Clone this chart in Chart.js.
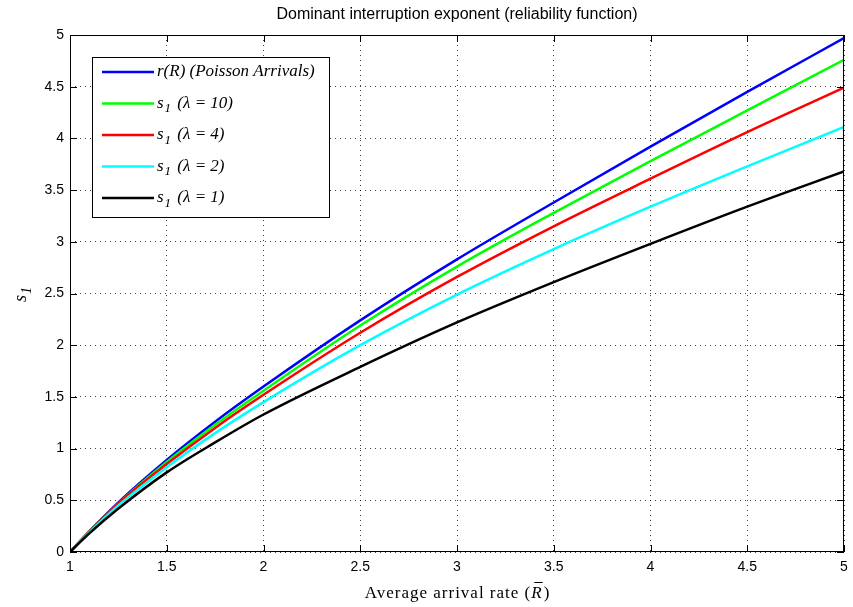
<!DOCTYPE html>
<html>
<head>
<meta charset="utf-8">
<title>Dominant interruption exponent</title>
<script src="https://cdn.jsdelivr.net/npm/chart.js@4.4.1/dist/chart.umd.min.js"></script>
<style>
  body { margin: 0; background: #fff; }
  #wrap { width: 853px; height: 607px; }
</style>
</head>
<body>
<div id="wrap"><canvas id="exponent-chart"></canvas></div>
<script>
// values
const rateValues = [1, 1.1, 1.25, 1.5, 1.75, 2, 2.5, 3, 3.5, 4, 4.5, 5];
const poissonValues = [0, 0.20, 0.48, 0.89, 1.26, 1.60, 2.24, 2.83, 3.38, 3.92, 4.45, 4.97];
const lambda10Values = [0, 0.20, 0.47, 0.87, 1.23, 1.56, 2.19, 2.76, 3.28, 3.78, 4.27, 4.76];
const lambda4Values = [0, 0.20, 0.47, 0.85, 1.20, 1.52, 2.12, 2.66, 3.15, 3.61, 4.06, 4.49];
const lambda2Values = [0, 0.19, 0.45, 0.82, 1.15, 1.45, 2.00, 2.49, 2.93, 3.34, 3.73, 4.11];
const lambda1Values = [0, 0.18, 0.42, 0.77, 1.06, 1.33, 1.79, 2.22, 2.61, 2.98, 3.34, 3.68];

const seriesLabels = ['r(R) (Poisson Arrivals)', 's_1 (λ = 10)', 's_1 (λ = 4)', 's_1 (λ = 2)', 's_1 (λ = 1)'];
const seriesColors = ['#0000ff', '#00ff00', '#ff0000', '#00ffff', '#000000'];
const seriesValues = [poissonValues, lambda10Values, lambda4Values, lambda2Values, lambda1Values];

const xTicks = [1, 1.5, 2, 2.5, 3, 3.5, 4, 4.5, 5];
const yTicks = [0, 0.5, 1, 1.5, 2, 2.5, 3, 3.5, 4, 4.5, 5];

const chartTitle = 'Dominant interruption exponent (reliability function)';

function toPoints(values) {
    return values.map(function(v, i) { return { x: rateValues[i], y: v }; });
}

// draws "s_1" style text with a lowered small subscript, returns end x
function drawSubText(ctx, text, x, y, size) {
    const m = text.match(/^(\w)_(\w)(.*)$/);
    ctx.font = 'italic ' + size + 'px "Liberation Serif", serif';
    if (!m) {
        ctx.fillText(text, x, y);
        return x + ctx.measureText(text).width;
    }
    ctx.fillText(m[1], x, y);
    x += ctx.measureText(m[1]).width + 1;
    ctx.font = 'italic ' + Math.round(size * 0.75) + 'px "Liberation Serif", serif';
    ctx.fillText(m[2], x, y + size * 0.3);
    x += ctx.measureText(m[2]).width + 2;
    ctx.font = 'italic ' + size + 'px "Liberation Serif", serif';
    ctx.fillText(m[3], x, y);
    return x + ctx.measureText(m[3]).width;
}

const decorPlugin = {
    id: 'decor',
    afterDraw: function(chart) {
        const ctx = chart.ctx;
        const area = chart.chartArea;
        const xs = chart.scales.x;
        const ys = chart.scales.y;

        ctx.save();
        // axes box
        ctx.strokeStyle = '#000';
        ctx.lineWidth = 1;
        ctx.strokeRect(area.left + 0.5, area.top + 0.5, area.right - area.left - 1, area.bottom - area.top - 1);

        // inward tick marks on all four sides
        const tl = 7;
        ctx.beginPath();
        xs.ticks.forEach(function(t) {
            const px = Math.round(xs.getPixelForValue(t.value)) + 0.5;
            ctx.moveTo(px, area.bottom); ctx.lineTo(px, area.bottom - tl);
            ctx.moveTo(px, area.top); ctx.lineTo(px, area.top + tl);
        });
        ys.ticks.forEach(function(t) {
            const py = Math.round(ys.getPixelForValue(t.value)) + 0.5;
            ctx.moveTo(area.left, py); ctx.lineTo(area.left + tl, py);
            ctx.moveTo(area.right, py); ctx.lineTo(area.right - tl, py);
        });
        ctx.stroke();

        // title
        ctx.fillStyle = '#000';
        ctx.textAlign = 'center';
        ctx.textBaseline = 'middle';
        ctx.font = '16px "Liberation Sans", Arial, sans-serif';
        ctx.fillText(chartTitle, (area.left + area.right) / 2, 15);

        // x axis label with barred R
        ctx.textAlign = 'left';
        ctx.textBaseline = 'alphabetic';
        ctx.letterSpacing = '1px';
        const part1 = 'Average arrival rate (';
        ctx.font = '17px "Liberation Serif", serif';
        const w1 = ctx.measureText(part1).width;
        ctx.font = 'italic 17px "Liberation Serif", serif';
        const wR = ctx.measureText('R').width;
        ctx.font = '17px "Liberation Serif", serif';
        const w2 = ctx.measureText(')').width;
        let lx = (area.left + area.right) / 2 - (w1 + wR + w2) / 2;
        const ly = 598;
        ctx.fillText(part1, lx, ly);
        lx += w1;
        ctx.font = 'italic 17px "Liberation Serif", serif';
        ctx.fillText('R', lx, ly);
        ctx.beginPath();
        ctx.moveTo(lx + 3, ly - 15.5); ctx.lineTo(lx + wR, ly - 15.5);
        ctx.stroke();
        lx += wR + 1;
        ctx.font = '17px "Liberation Serif", serif';
        ctx.fillText(')', lx, ly);
        ctx.letterSpacing = '0px';

        // y axis label
        ctx.save();
        ctx.translate(26, 302);
        ctx.rotate(-Math.PI / 2);
        drawSubText(ctx, 's_1', 0, 0, 18);
        ctx.restore();

        // legend box
        const bx = 92, by = 57, bw = 237, bh = 160;
        ctx.fillStyle = '#fff';
        ctx.fillRect(bx, by, bw, bh);
        ctx.strokeStyle = '#000';
        ctx.lineWidth = 1;
        ctx.strokeRect(bx + 0.5, by + 0.5, bw, bh);
        chart.data.datasets.forEach(function(ds, i) {
            const ry = by + 15 + i * 31.5;
            ctx.strokeStyle = ds.borderColor;
            ctx.lineWidth = 2.5;
            ctx.beginPath();
            ctx.moveTo(bx + 10, ry); ctx.lineTo(bx + 62, ry);
            ctx.stroke();
            ctx.fillStyle = '#000';
            ctx.textBaseline = 'middle';
            drawSubText(ctx, ds.label, bx + 65, ry, 17);
        });
        ctx.restore();
    }
};

document.addEventListener('DOMContentLoaded', function() {
    const el = document.getElementById('exponent-chart');
    const datasets = seriesValues.map(function(values, i) {
        return {
            label: seriesLabels[i],
            data: toPoints(values),
            borderColor: seriesColors[i],
            backgroundColor: seriesColors[i],
            borderWidth: 2.5,
            pointRadius: 0,
            cubicInterpolationMode: 'monotone',
            fill: false,
            order: seriesValues.length - i
        };
    });

    const tickFont = { family: '"Liberation Sans", Arial, sans-serif', size: 14 };

    new Chart(el.getContext('2d'), {
        type: 'line',
        data: { datasets: datasets },
        options: {
            responsive: true,
            maintainAspectRatio: false,
            animation: false,
            layout: { padding: { top: 35, right: 9, left: 0, bottom: 0 } },
            plugins: {
                legend: { display: false },
                title: { display: false },
                tooltip: { enabled: false }
            },
            scales: {
                x: {
                    type: 'linear',
                    min: 1,
                    max: 5,
                    afterBuildTicks: function(scale) {
                        scale.ticks = xTicks.map(function(v) { return { value: v }; });
                    },
                    afterFit: function(scale) {
                        scale.height = 55;
                        scale.paddingLeft = 0;
                        scale.paddingRight = 0;
                    },
                    ticks: {
                        color: '#000',
                        padding: 7,
                        maxRotation: 0,
                        font: tickFont,
                        callback: function(value) { return String(value); }
                    },
                    grid: { color: 'rgba(0,0,0,0.75)', lineWidth: 1, drawTicks: false },
                    border: { display: false, dash: [1, 4] }
                },
                y: {
                    type: 'linear',
                    min: 0,
                    max: 5,
                    afterBuildTicks: function(scale) {
                        scale.ticks = yTicks.map(function(v) { return { value: v }; });
                    },
                    afterFit: function(scale) {
                        scale.width = 70;
                        scale.paddingTop = 0;
                        scale.paddingBottom = 0;
                    },
                    ticks: {
                        color: '#000',
                        padding: 6,
                        font: tickFont,
                        callback: function(value) { return String(value); }
                    },
                    grid: { color: 'rgba(0,0,0,0.75)', lineWidth: 1, drawTicks: false },
                    border: { display: false, dash: [1, 4] }
                }
            }
        },
        plugins: [decorPlugin]
    });
});
</script>
</body>
</html>
